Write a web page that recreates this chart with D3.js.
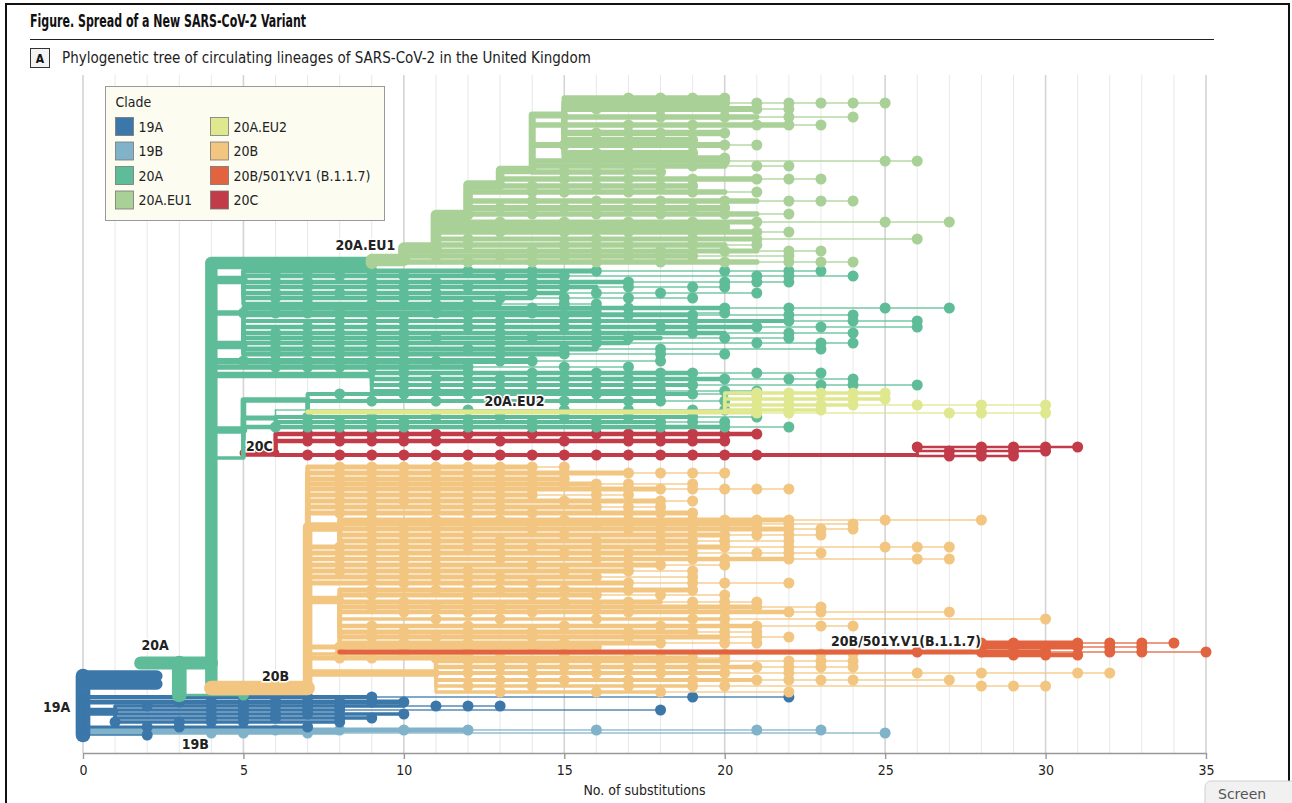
<!DOCTYPE html>
<html>
<head>
<meta charset="utf-8">
<script src="https://cdn.jsdelivr.net/npm/d3@7"></script>
<style>
  body { margin: 0; background: #fff; }
  svg { display: block; }
</style>
</head>
<body>
<svg id="chart" width="1292" height="803"></svg>
<script>
// Clades and their colours (legend order)
const clades = ['19A', '19B', '20A', '20A.EU1', '20A.EU2', '20B', '20B/501Y.V1 (B.1.1.7)', '20C'];
const cladeColors = ['#3b77a9', '#80b3c9', '#5ebd98', '#a9d197', '#dfe78f', '#f2c681', '#e2633f', '#c13b49'];

// x ticks (number of substitutions)
const xTicks = [0, 5, 10, 15, 20, 25, 30, 35];

// Branches: [parentX, parentRow, row, x, descendants, nodeDots, tipX]
// the line runs from the parent node down/up to its row and then right to x;
// an optional thin tip branch runs on to tipX
const branches19A = [
  [0, 581, 640, 0, 500, []],
  [0, 600, 581, 2.3, 300, []],
  [0, 600, 589, 2.3, 300, []],
  [0, 600, 602, 9, 25, [3, 4, 5, 6, 7, 9, 19, 22], 22],
  [0, 600, 607, 10, 40, [3, 4, 5, 6, 7, 8, 9, 10]],
  [0, 600, 616, 1, 80, []],
  [1, 616, 611, 10, 20, [2, 5, 6, 7, 8, 11, 12, 13], 13],
  [1, 616, 615, 8, 15, [4, 5, 7, 8, 18], 18],
  [0, 600, 619, 10, 15, [5, 6, 7, 10]],
  [1, 616, 623, 9, 20, [4, 5, 6, 8, 9]],
  [1, 616, 627, 8, 20, [1, 3, 4, 5, 8]],
  [0, 600, 632, 7, 10, [2, 3, 7]],
  [0, 600, 640, 2, 1, [2]],
];

const branches19B = [
  [0, 600, 635, 12, 40, [4, 5, 6, 7, 8, 10, 12, 16, 21, 23], 23],
  [0, 600, 638, 8, 20, [4, 5, 7, 25], 25],
];

const branches20A = [
  [1.8, 568, 568, 4, 400, []],
  [3, 568, 600, 3, 500, []],
  [3, 600, 600, 5, 5, [5]],
  [4, 568, 588, 4, 350, []],
  [4, 568, 168, 9, 350, []],
  [4, 568, 185, 5, 150, []],
  [5, 185, 176, 16, 40, [6, 7, 9, 12, 14, 16, 20, 22, 23], 23],
  [5, 185, 181, 15, 30, [6, 8, 10, 13, 15, 21, 22, 24], 24],
  [5, 185, 187, 17, 35, [6, 7, 9, 11, 14, 17, 20, 21, 22], 22],
  [5, 185, 192, 16, 30, [7, 9, 10, 12, 15, 17, 19, 20], 20],
  [5, 185, 198, 15, 35, [6, 8, 9, 11, 14, 16, 18, 21], 21],
  [5, 185, 203, 14, 30, [6, 7, 10, 13, 15, 17, 19], 19],
  [5, 185, 209, 13, 30, [7, 9, 11, 12, 15, 16], 16],
  [4, 568, 218, 16, 60, [5, 6, 7, 8, 11, 12, 14, 16, 20], 20],
  [4, 568, 250, 5, 150, []],
  [5, 250, 213, 20, 30, [8, 11, 14, 17, 20, 22, 25, 27], 27],
  [5, 250, 220, 19, 30, [9, 12, 15, 17, 19, 22, 24], 24],
  [5, 250, 226, 22, 25, [8, 10, 13, 16, 19, 22, 24, 26], 26],
  [5, 250, 232, 21, 30, [7, 9, 12, 15, 18, 21, 23, 26], 26],
  [5, 250, 238, 20, 30, [6, 8, 10, 13, 16, 19, 22, 24], 24],
  [5, 250, 243, 18, 35, [6, 7, 9, 11, 14, 17, 20, 22], 22],
  [5, 250, 248, 17, 35, [6, 8, 10, 13, 16, 21, 23, 24], 24],
  [5, 250, 254, 16, 40, [6, 7, 9, 12, 15, 18, 23], 23],
  [5, 250, 259, 15, 40, [6, 8, 10, 13, 15, 18, 20], 20],
  [4, 568, 266, 14, 70, [5, 6, 7, 8, 9, 11, 13, 14, 18], 18],
  [4, 568, 272, 12, 60, [6, 7, 8, 9, 10, 12, 15, 17], 17],
  [4, 568, 280, 9, 80, []],
  [9, 280, 278, 19, 30, [10, 12, 14, 16, 18, 19, 21, 23], 23],
  [9, 280, 284, 20, 30, [11, 13, 15, 17, 20, 22, 24], 24],
  [9, 280, 290, 19, 25, [10, 12, 14, 16, 18, 19, 23, 24, 26], 26],
  [9, 280, 296, 18, 25, [11, 13, 15, 17, 18, 20, 21], 21],
  [4, 568, 335, 5, 120, []],
  [5, 335, 305, 7, 60, []],
  [7, 305, 317, 7, 40, []],
  [7, 305, 299, 19, 25, [8, 10, 12, 14, 16, 18, 19, 21], 21],
  [7, 305, 306, 18, 25, [9, 11, 13, 15, 17, 18, 20], 20],
  [5, 335, 323, 6, 50, []],
  [6, 323, 315, 6, 1, [12, 15, 17, 19, 20], 20],
  [6, 323, 322, 19, 25, [7, 9, 11, 13, 15, 17, 19, 21], 21],
  [6, 323, 327, 18, 25, [8, 10, 12, 14, 16, 18, 19, 20], 20],
  [5, 335, 332, 20, 30, [6, 7, 8, 9, 10, 12, 14, 16, 18, 20, 22], 22],
  [5, 335, 362, 5, 40, []],
  [4, 568, 363, 5, 20, []],
];

const branchesEU1 = [
  [9, 168, 165, 10, 340, []],
  [10, 165, 153, 11, 300, []],
  [11, 153, 120, 12, 250, []],
  [12, 120, 90, 13, 200, []],
  [13, 90, 75, 14, 160, []],
  [14, 75, 20, 15, 100, []],
  [15, 20, 3, 20, 55, [17, 18, 19, 20]],
  [15, 20, 8, 20, 65, [16, 17, 18, 19, 20, 21, 22, 23, 24, 25], 25],
  [15, 20, 14, 21, 65, [16, 18, 20, 21, 22], 22],
  [15, 20, 22, 21, 55, [18, 20, 22, 24], 24],
  [15, 20, 38, 20, 80, [16, 17, 18, 20]],
  [15, 20, 45, 19, 65, [16, 18, 19]],
  [15, 20, 58, 19, 65, [16, 17, 19]],
  [15, 20, 63, 20, 60, [16, 18, 20]],
  [14, 75, 30, 22, 55, [17, 19, 21, 22, 23], 23],
  [14, 75, 50, 20, 65, [15, 17, 19, 20, 21], 21],
  [14, 75, 66, 20, 55, [16, 18, 20, 25, 26], 26],
  [14, 75, 71, 20, 60, [17, 19, 21, 22], 22],
  [14, 75, 77, 18, 55, [15, 16, 18]],
  [13, 90, 84, 21, 55, [15, 17, 19, 21, 22, 23], 23],
  [13, 90, 91, 19, 55, [14, 16, 18, 19]],
  [12, 120, 97, 20, 55, [14, 15, 17, 19, 21], 21],
  [12, 120, 106, 21, 55, [14, 16, 18, 20, 22, 23, 24], 24],
  [12, 120, 113, 20, 65, [13, 15, 17, 19, 20]],
  [12, 120, 119, 21, 55, [14, 16, 18, 20, 22], 22],
  [11, 153, 127, 21, 45, [13, 15, 17, 19, 21, 25, 27], 27],
  [11, 153, 132, 20, 65, [12, 14, 16, 18, 20]],
  [11, 153, 137, 21, 55, [13, 15, 17, 19, 21, 22], 22],
  [11, 153, 144, 21, 45, [12, 16, 19, 21, 26], 26],
  [11, 153, 150, 20, 55, [12, 15, 17, 19, 21], 21],
  [11, 153, 156, 21, 45, [14, 16, 18, 20, 22, 23], 23],
  [10, 165, 161, 19, 55, [11, 13, 15, 17, 19, 22], 22],
  [10, 165, 167, 21, 55, [12, 14, 16, 18, 20, 22, 23, 24], 24],
];

const branchesEU2 = [
  [7, 317, 317, 20, 40, []],
  [20, 317, 298, 25, 15, [21, 22, 23, 24, 25]],
  [20, 317, 304, 25, 20, [21, 22, 24, 25]],
  [20, 317, 310, 24, 15, [21, 22, 23, 24, 26, 28, 30], 30],
  [20, 317, 315, 23, 15, [21, 22, 23]],
  [20, 317, 318, 21, 10, [21, 22, 27, 28, 30], 30],
];

const branches20C = [
  [5, 358, 358, 6, 120, []],
  [6, 358, 339, 21, 30, [7, 8, 9, 10, 11, 12, 14, 16, 17, 18, 19, 20, 21]],
  [6, 358, 346, 20, 30, [7, 8, 9, 10, 11, 13, 15, 17, 18, 19, 20]],
  [6, 358, 360, 26, 25, [7, 8, 9, 10, 11, 12, 13, 14, 15, 16, 17, 18, 19, 20, 21]],
  [26, 360, 352, 31, 8, [26, 28, 29, 30, 31]],
  [26, 360, 356, 30, 8, [27, 28, 29, 30]],
  [26, 360, 361, 29, 8, [27, 28, 29]],
];

const branches20B = [
  [4, 593, 593, 7, 500, []],
  [7, 593, 372, 14, 40, [8, 9, 10, 11, 12, 13, 14, 15], 15],
  [7, 593, 378, 17, 50, [8, 9, 11, 13, 15, 17, 18, 19, 20], 20],
  [7, 593, 384, 15, 50, [8, 10, 12, 14, 15]],
  [7, 593, 389, 16, 50, [9, 11, 13, 15, 16, 17, 19], 19],
  [7, 593, 394, 18, 40, [8, 10, 12, 14, 16, 17, 18, 19, 20, 21, 22], 22],
  [7, 593, 400, 14, 50, [9, 11, 13, 14, 16, 17], 17],
  [7, 593, 406, 18, 50, [8, 10, 12, 15, 18, 19], 19],
  [7, 593, 412, 16, 50, [9, 11, 13, 16, 17, 18], 18],
  [7, 593, 418, 19, 50, [8, 9, 12, 14, 17, 18, 19]],
  [7, 593, 432, 8, 200, []],
  [8, 432, 425, 22, 50, [9, 11, 13, 15, 17, 19, 20, 21, 22, 25, 28], 28],
  [8, 432, 429, 21, 50, [10, 12, 14, 16, 18, 20, 21, 22, 24], 24],
  [8, 432, 434, 22, 50, [9, 11, 14, 17, 19, 21, 22, 23, 24], 24],
  [8, 432, 440, 20, 50, [10, 12, 15, 18, 20, 21, 22, 23], 23],
  [8, 432, 446, 19, 50, [9, 11, 13, 16, 19, 20, 22], 22],
  [7, 593, 452, 20, 40, [8, 10, 12, 14, 16, 18, 20, 22, 25, 26, 27], 27],
  [7, 593, 458, 19, 40, [9, 11, 13, 15, 17, 19, 21, 22, 23], 23],
  [7, 593, 464, 22, 35, [8, 10, 13, 16, 19, 20, 22, 26, 27], 27],
  [7, 593, 470, 18, 40, [9, 11, 14, 17, 18, 20], 20],
  [7, 593, 476, 17, 45, [8, 10, 12, 15, 17, 19], 19],
  [7, 593, 482, 16, 45, [9, 11, 13, 16, 19], 19],
  [7, 593, 488, 17, 40, [10, 12, 14, 17, 19, 20, 22], 22],
  [7, 593, 505, 8, 150, []],
  [8, 505, 495, 19, 40, [9, 11, 13, 15, 17, 19]],
  [8, 505, 500, 16, 40, [9, 12, 14, 16, 18, 20], 20],
  [8, 505, 507, 18, 40, [10, 12, 15, 17, 19, 20, 21], 21],
  [8, 505, 512, 21, 40, [9, 11, 13, 16, 19, 20, 21, 23], 23],
  [8, 505, 517, 22, 30, [10, 12, 14, 17, 20, 22, 23, 27], 27],
  [8, 505, 524, 20, 20, [11, 13, 16, 19, 20, 30], 30],
  [8, 505, 531, 21, 35, [9, 12, 15, 18, 20, 21, 23, 24], 24],
  [8, 505, 537, 19, 40, [10, 12, 14, 17, 19, 20, 21], 21],
  [8, 505, 542, 20, 40, [9, 11, 14, 17, 20, 21, 22], 22],
  [8, 505, 548, 18, 40, [10, 12, 15, 18, 20, 21], 21],
  [7, 593, 552, 16, 50, [8, 10, 12, 14, 16]],
  [7, 593, 559, 12, 20, [8, 10, 12, 15, 20, 23, 24], 24],
  [7, 593, 563, 19, 40, [8, 9, 11, 13, 15, 17, 18, 19, 20], 20],
  [7, 593, 578, 11, 120, []],
  [11, 578, 566, 20, 30, [12, 14, 16, 18, 20, 22, 23, 24], 24],
  [11, 578, 572, 21, 30, [13, 15, 17, 19, 21, 22, 23, 24], 24],
  [11, 578, 578, 20, 25, [12, 14, 16, 18, 20, 22, 26, 28, 31, 32], 32],
  [11, 578, 585, 21, 25, [13, 15, 17, 19, 21, 22, 23, 24, 27], 27],
  [11, 578, 591, 19, 20, [12, 14, 17, 19, 20, 28, 29, 30], 30],
  [11, 578, 597, 18, 15, [13, 16, 18, 22], 22],
];

const branches501Y = [
  [8, 557, 557, 28, 40, [26]],
  [28, 557, 548, 31, 40, [28, 29, 31, 32, 33, 34], 34],
  [28, 557, 552, 31, 40, [29, 30, 31, 32, 33], 33],
  [28, 557, 557, 30, 40, [28, 30, 32, 33, 35], 35],
  [28, 557, 560, 31, 30, [29, 30, 31]],
];

// Clade labels on the tree: [text, x, row, anchor]
const cladeLabels = [
  ['19A', -0.4, 612, 'end'],
  ['19B', 3.5, 649, 'middle'],
  ['20A', 2.25, 550, 'middle'],
  ['20B', 6.0, 581, 'middle'],
  ['20C', 5.5, 351, 'middle'],
  ['20A.EU2', 13.45, 306, 'middle'],
  ['20A.EU1', 8.8, 150, 'middle'],
  ['20B/501Y.V1(B.1.1.7)', 25.65, 546, 'middle'],
];

const FONT = "'Liberation Sans Narrow', 'DejaVu Sans Condensed', 'Arial Narrow', sans-serif";

// draw order: back to front
const drawOrder = [
  ['19B', branches19B],
  ['19A', branches19A],
  ['20C', branches20C],
  ['20A', branches20A],
  ['20A.EU1', branchesEU1],
  ['20A.EU2', branchesEU2],
  ['20B', branches20B],
  ['20B/501Y.V1 (B.1.1.7)', branches501Y],
];

function drawChart() {
  const svg = d3.select('#chart');
  svg.selectAll('*').remove();
  svg.style('font-family', FONT);

  const colorOf = d3.scaleOrdinal().domain(clades).range(cladeColors);

  // Create scales
  let margin = { left: 83, right: 86, top: 95, axisY: 753 };
  let xScale = d3.scaleLinear().domain([0, 35]).range([margin.left, 1292 - margin.right]);
  let yScale = d3.scaleLinear().domain([0, 640]).range([margin.top, 735]);
  let widthScale = d3.scaleSqrt().domain([1, 600]).range([1.5, 16]);

  // Frame
  svg.append('rect')
    .attr('x', 6).attr('y', 4)
    .attr('width', 1283).attr('height', 840)
    .attr('fill', 'none')
    .attr('stroke', '#111')
    .attr('stroke-width', 2);

  // Title
  svg.append('text')
    .attr('x', 30).attr('y', 27)
    .attr('font-size', 17).attr('font-weight', 'bold')
    .attr('fill', '#111')
    .attr('textLength', 276)
    .attr('lengthAdjust', 'spacingAndGlyphs')
    .text('Figure. Spread of a New SARS-CoV-2 Variant');
  svg.append('line')
    .attr('x1', 30).attr('x2', 1214)
    .attr('y1', 39.5).attr('y2', 39.5)
    .attr('stroke', '#222');

  svg.append('rect')
    .attr('x', 30.5).attr('y', 48.5)
    .attr('width', 19).attr('height', 19)
    .attr('fill', '#f3f3f3')
    .attr('stroke', '#333');
  svg.append('text')
    .attr('x', 40).attr('y', 62.5)
    .attr('text-anchor', 'middle')
    .attr('font-size', 12).attr('font-weight', 'bold')
    .attr('fill', '#111')
    .text('A');
  svg.append('text')
    .attr('x', 62).attr('y', 63)
    .attr('font-size', 15)
    .attr('fill', '#222')
    .text('Phylogenetic tree of circulating lineages of SARS-CoV-2 in the United Kingdom');

  // Grid
  let grid = svg.append('g');
  grid.selectAll('line')
    .data(d3.range(0, 36))
    .join('line')
    .attr('x1', (d) => xScale(d)).attr('x2', (d) => xScale(d))
    .attr('y1', 75).attr('y2', margin.axisY)
    .attr('stroke', (d) => d % 5 === 0 ? '#d4d4d4' : '#e8e8e8')
    .attr('stroke-width', (d) => d % 5 === 0 ? 1.6 : 1);

  // Axis
  let xAxis = d3.axisBottom(xScale)
    .tickValues(xTicks)
    .tickSize(6)
    .tickSizeOuter(0);
  let axisG = svg.append('g')
    .attr('transform', 'translate(0,' + margin.axisY + ')')
    .call(xAxis);
  axisG.select('.domain').attr('stroke', '#999').attr('stroke-width', 1.6);
  axisG.selectAll('.tick line').attr('stroke', '#999').attr('stroke-width', 1.4);
  axisG.selectAll('.tick text')
    .attr('font-family', FONT)
    .attr('font-size', 14)
    .attr('fill', '#222')
    .attr('dy', '0.95em');

  svg.append('text')
    .attr('x', (xScale(0) + xScale(35)) / 2)
    .attr('y', 795)
    .attr('text-anchor', 'middle')
    .attr('font-size', 14)
    .attr('fill', '#222')
    .text('No. of substitutions');

  // Tree
  let tree = svg.append('g')
    .attr('fill', 'none')
    .attr('stroke-linecap', 'round')
    .attr('stroke-linejoin', 'round');

  drawOrder.forEach(([clade, rows]) => {
    let color = colorOf(clade);
    let g = tree.append('g');

    g.selectAll('path.branch')
      .data(rows)
      .join('path')
      .attr('class', 'branch')
      .attr('d', (d) => 'M' + xScale(d[0]) + ',' + yScale(d[1]) +
        'V' + yScale(d[2]) + 'H' + xScale(d[3]))
      .attr('stroke', color)
      .attr('stroke-width', (d) => widthScale(d[4]));

    g.selectAll('path.tip')
      .data(rows.filter((d) => d[6] !== undefined && d[6] > d[3]))
      .join('path')
      .attr('class', 'tip')
      .attr('d', (d) => 'M' + xScale(d[3]) + ',' + yScale(d[2]) + 'H' + xScale(d[6]))
      .attr('stroke', color)
      .attr('stroke-opacity', 0.85)
      .attr('stroke-width', 1.6);

    let dots = rows.flatMap((d) => d[5].map((x) => ({ x: x, row: d[2] })));
    g.selectAll('circle')
      .data(dots)
      .join('circle')
      .attr('cx', (d) => xScale(d.x))
      .attr('cy', (d) => yScale(d.row))
      .attr('r', 5.5)
      .attr('fill', color)
      .attr('stroke', 'none');
  });

  // Clade labels
  svg.append('g')
    .selectAll('text')
    .data(cladeLabels)
    .join('text')
    .attr('x', (d) => xScale(d[1]))
    .attr('y', (d) => yScale(d[2]))
    .attr('dy', '0.35em')
    .attr('text-anchor', (d) => d[3])
    .attr('font-size', 14)
    .attr('font-weight', 'bold')
    .attr('fill', '#222')
    .attr('stroke', '#fff')
    .attr('stroke-width', 3)
    .attr('paint-order', 'stroke')
    .text((d) => d[0]);

  // Legend
  let legend = svg.append('g').attr('transform', 'translate(105.5,86.5)');
  legend.append('rect')
    .attr('width', 279).attr('height', 134)
    .attr('fill', '#fcfcf1')
    .attr('stroke', '#999');
  legend.append('text')
    .attr('x', 10).attr('y', 20)
    .attr('font-size', 14)
    .attr('fill', '#222')
    .text('Clade');
  let items = legend.selectAll('g.item')
    .data(clades)
    .join('g')
    .attr('class', 'item')
    .attr('transform', (d, i) => 'translate(' + (i < 4 ? 10 : 105) + ',' + (31 + (i % 4) * 24.5) + ')');
  items.append('rect')
    .attr('width', 18).attr('height', 18)
    .attr('fill', (d) => colorOf(d))
    .attr('stroke', '#777')
    .attr('stroke-width', 0.8);
  items.append('text')
    .attr('x', 23).attr('y', 14)
    .attr('font-size', 14)
    .attr('fill', '#222')
    .text((d) => d);

  // Page button peeking in at the corner
  svg.append('rect')
    .attr('x', 1205).attr('y', 781)
    .attr('width', 110).attr('height', 40)
    .attr('rx', 6)
    .attr('fill', '#f1f1f1')
    .attr('stroke', '#cfcfcf');
  svg.append('text')
    .attr('x', 1218).attr('y', 799)
    .attr('font-family', "'DejaVu Sans', sans-serif")
    .attr('font-size', 14)
    .attr('fill', '#555')
    .text('Screen');
}

drawChart();
</script>
</body>
</html>
